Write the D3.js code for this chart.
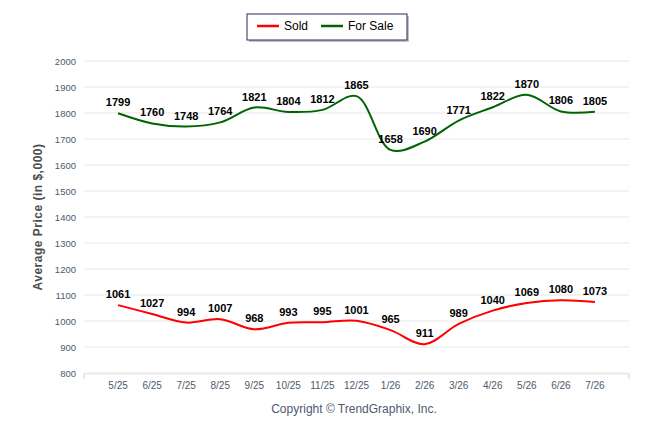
<!DOCTYPE html>
<html><head><meta charset="utf-8">
<script src="https://cdn.jsdelivr.net/npm/d3@7"></script>
<style>body{margin:0;background:#fff}</style>
</head><body>
<script>
var months = ["5/25","6/25","7/25","8/25","9/25","10/25","11/25","12/25","1/26","2/26","3/26","4/26","5/26","6/26","7/26"];
var sold = [1061,1027,994,1007,968,993,995,1001,965,911,989,1040,1069,1080,1073];
var forSale = [1799,1760,1748,1764,1821,1804,1812,1865,1658,1690,1771,1822,1870,1806,1805];
var yTicks = [800,900,1000,1100,1200,1300,1400,1500,1600,1700,1800,1900,2000];

var w = 646, h = 434;
var plotLeft = 84, plotRight = 629, plotTop = 61, plotBottom = 373;

var svg = d3.select("body").append("svg").attr("width", w).attr("height", h)
    .style("font-family", "Arial, 'Liberation Sans', sans-serif");

var x = d3.scalePoint().domain(months).range([plotLeft, plotRight]).padding(1);
var y = d3.scaleLinear().domain([800, 2000]).range([plotBottom, plotTop]);

// grid
svg.selectAll("line.grid").data(yTicks).enter().append("line")
    .attr("x1", plotLeft).attr("x2", plotRight)
    .attr("y1", function (d) { return y(d); }).attr("y2", function (d) { return y(d); })
    .attr("stroke", "#e6e6e6");

// y labels
svg.selectAll("text.yt").data(yTicks).enter().append("text")
    .attr("x", 76).attr("y", function (d) { return y(d) + 3.5; })
    .attr("text-anchor", "end").attr("font-size", 9.5).attr("fill", "#4d5a6e")
    .attr("font-family", "'Liberation Sans Narrow', Arial, sans-serif")
    .text(function (d) { return d; });

// x axis
svg.append("line").attr("x1", plotLeft).attr("x2", plotRight).attr("y1", plotBottom + 1).attr("y2", plotBottom + 1).attr("stroke", "#e6e6e6");
svg.selectAll("line.xt").data([plotLeft, plotRight]).enter().append("line")
    .attr("x1", function (d) { return d; }).attr("x2", function (d) { return d; })
    .attr("y1", plotBottom + 1).attr("y2", plotBottom + 6).attr("stroke", "#d0d0d0");
svg.selectAll("text.xl").data(months).enter().append("text")
    .attr("x", function (d) { return x(d); }).attr("y", 389)
    .attr("text-anchor", "middle").attr("font-size", 10).attr("fill", "#4d5a6e")
    .attr("font-family", "'Liberation Sans Narrow', Arial, sans-serif")
    .text(function (d) { return d; });

// y title
svg.append("text").attr("transform", "translate(42," + ((plotTop + plotBottom) / 2) + ") rotate(-90)")
    .attr("text-anchor", "middle").attr("font-size", 12).attr("font-weight", "bold")
    .attr("fill", "#4d4d4d").attr("letter-spacing", 0.5).text("Average Price (in $,000)");

var line = d3.line()
    .x(function (d, i) { return x(months[i]); })
    .y(function (d) { return y(d); })
    .curve(d3.curveCatmullRom.alpha(0.5));

function series(data, color) {
    svg.append("path").datum(data).attr("d", line)
        .attr("fill", "none").attr("stroke", color).attr("stroke-width", 2);
    svg.selectAll(null).data(data).enter().append("text")
        .attr("x", function (d, i) { return x(months[i]); })
        .attr("y", function (d) { return y(d) - 7; })
        .attr("text-anchor", "middle").attr("font-size", 11).attr("font-weight", "bold")
        .attr("fill", "#000").text(function (d) { return d; });
}
series(sold, "#ff0000");
series(forSale, "#006400");

// legend
svg.append("rect").attr("x", 249).attr("y", 16).attr("width", 160).attr("height", 26).attr("fill", "#999").attr("opacity", 0.6);
svg.append("rect").attr("x", 247).attr("y", 14).attr("width", 160).attr("height", 26)
    .attr("fill", "#fff").attr("stroke", "#1f2d5a").attr("stroke-width", 1);
var legend = [["Sold", "#ff0000", 257], ["For Sale", "#006400", 321]];
legend.forEach(function (l) {
    svg.append("line").attr("x1", l[2]).attr("x2", l[2] + 22).attr("y1", 26).attr("y2", 26)
        .attr("stroke", l[1]).attr("stroke-width", 2.5);
    svg.append("text").attr("x", l[2] + 27).attr("y", 30).attr("font-size", 12).attr("fill", "#000")
        .attr("font-family", "'Liberation Sans Narrow', Arial, sans-serif").text(l[0]);
});

// copyright
svg.append("text").attr("x", 354).attr("y", 413).attr("text-anchor", "middle")
    .attr("font-size", 12).attr("fill", "#4d5a6e")
    .attr("font-family", "'Liberation Sans Narrow', Arial, sans-serif")
    .text("Copyright \u00a9 TrendGraphix, Inc.");
</script>
</body></html>
